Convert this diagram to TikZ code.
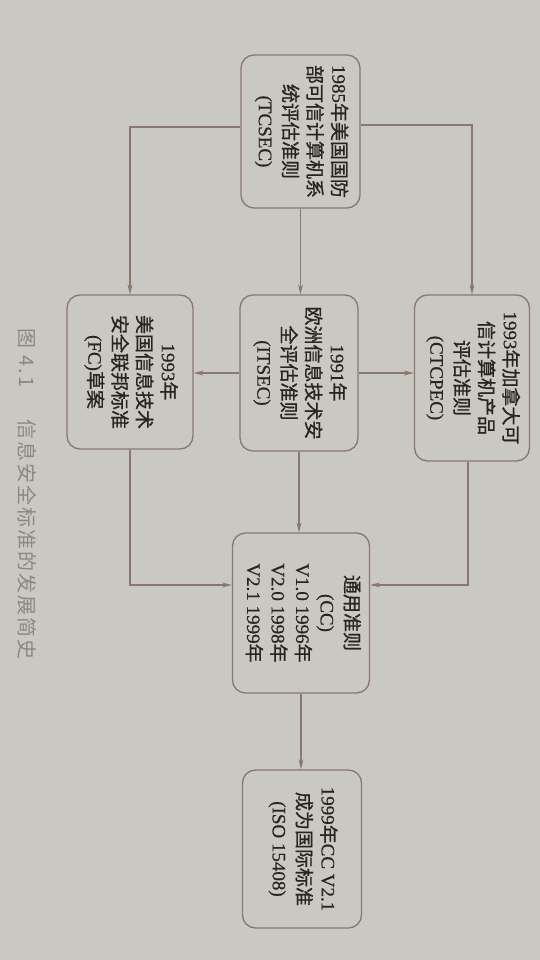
\documentclass[tikz,border=0pt]{standalone}
\usepackage{fontspec}
\usepackage{graphicx}
\setmainfont[FakeBold=0.6]{Liberation Serif}
\newfontfamily\cjkfont[FakeBold=0.9]{Noto Sans CJK SC}
\newfontfamily\capfont[LetterSpace=10]{Noto Sans CJK SC}
\usetikzlibrary{arrows.meta}
\definecolor{paper}{RGB}{201,200,194}
\definecolor{linec}{RGB}{138,120,110}
\definecolor{inkc}{RGB}{40,36,34}
\definecolor{capc}{RGB}{138,136,132}
\newcommand\zh[1]{{\cjkfont #1}}
\newcommand\vtext[1]{\rotatebox{-90}{\fontsize{19}{24.5}\selectfont\begin{tabular}{@{}c@{}}#1\end{tabular}}}
\tikzset{
  stdbox/.style={draw=linec, line width=1.3pt, rounded corners=13pt, inner sep=0pt, text=inkc, fill=paper},
  conn/.style={draw=linec, line width=1.1pt, -{Stealth[length=10pt,width=5pt]}},
}
\begin{document}
\begin{tikzpicture}[x=1pt,y=-1pt]
\fill[paper] (0,0) rectangle (540,960);
\useasboundingbox (0,0) rectangle (540,960);

\node[stdbox, minimum width=119pt, minimum height=153pt] (tcsec) at (300.5,131.5)
  {\vtext{1985\zh{年美国国防}\\ \zh{部可信计算机系}\\ \zh{统评估准则}\\ (TCSEC)}};
\node[stdbox, minimum width=115pt, minimum height=166pt] (ctcpec) at (472,378)
  {\vtext{1993\zh{年加拿大可}\\ \zh{信计算机产品}\\ \zh{评估准则}\\ (CTCPEC)}};
\node[stdbox, minimum width=118pt, minimum height=156pt] (itsec) at (299,373)
  {\vtext{1991\zh{年}\\ \zh{欧洲信息技术安}\\ \zh{全评估准则}\\ (ITSEC)}};
\node[stdbox, minimum width=126pt, minimum height=154pt] (fc) at (130,372)
  {\vtext{1993\zh{年}\\ \zh{美国信息技术}\\ \zh{安全联邦标准}\\ (FC)\zh{草案}}};
\node[stdbox, minimum width=137pt, minimum height=160pt] (cc) at (301,613)
  {\vtext{\zh{通用准则}\\ (CC)\\ V1.0 1996\zh{年}\\ V2.0 1998\zh{年}\\ V2.1 1999\zh{年}}};
\node[stdbox, minimum width=119pt, minimum height=158pt] (iso) at (302,849)
  {\vtext{1999\zh{年}CC V2.1\\ \zh{成为国际标准}\\ (ISO 15408)}};

\node[text=capc, inner sep=0pt] (cap) at (27,494)
  {\rotatebox{-90}{\capfont\fontsize{20}{20}\selectfont 图 4.1\hspace{1.6em}信息安全标准的发展简史}};

\draw[conn] ([yshift=6.5pt]tcsec.east) -| (ctcpec.north);
\draw[conn] ([yshift=4.5pt]tcsec.west) -| (fc.north);
\draw[conn] (tcsec.south) -- (tcsec.south |- itsec.north);
\draw[conn] (itsec.west) -- (fc.east |- itsec.west);
\draw[conn] (itsec.east) -- (ctcpec.west |- itsec.east);
\draw[conn] (itsec.south) -- (itsec.south |- cc.north);
\draw[conn] (fc.south) |- ([yshift=28pt]cc.west);
\draw[conn] ([xshift=-4pt]ctcpec.south) |- ([yshift=28pt]cc.east);
\draw[conn] (cc.south) -- (cc.south |- iso.north);
\end{tikzpicture}
\end{document}
